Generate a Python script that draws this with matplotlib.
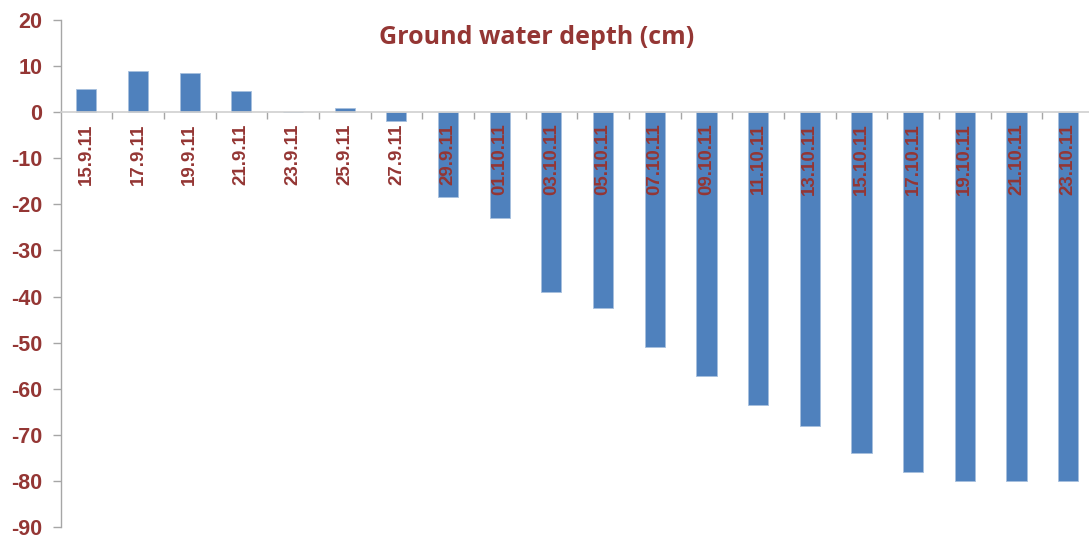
import numpy as np
import matplotlib
matplotlib.use('Agg')
import matplotlib.pyplot as plt
from matplotlib.ticker import FixedLocator, NullFormatter, FixedFormatter

#DATA===================================================================
dates  = ['15.9.11', '17.9.11', '19.9.11', '21.9.11', '23.9.11',
          '25.9.11', '27.9.11', '29.9.11', '01.10.11', '03.10.11',
          '05.10.11', '07.10.11', '09.10.11', '11.10.11', '13.10.11',
          '15.10.11', '17.10.11', '19.10.11', '21.10.11', '23.10.11']
depth  = [5.0, 9.0, 8.4, 4.5, 0.0,
          1.0, -2.0, -18.4, -23.0, -39.0,
          -42.4, -51.0, -57.3, -63.5, -68.0,
          -74.0, -78.0, -80.0, -80.0, -80.0]
yTicks = list(range(-90, 30, 10))

#STYLE==================================================================
barCol  = '#4F81BD'
edgeCol = '#A7C0DE'
txtCol  = '#943634'
axCol   = '#A6A6A6'

#FIGURE=================================================================
fig = plt.figure(figsize=(10.89, 5.35), dpi=100, facecolor='w')
ax = fig.add_axes([60.5/1089, 8/535, 1033.5/1089, 507/535])

xPos = np.arange(len(dates))
ax.bar(xPos, depth, width=0.39, color=barCol, edgecolor=edgeCol,
       linewidth=0.6, zorder=1)

ax.set_xlim(-0.5, len(dates) - 0.5)
ax.set_ylim(-90, 20)

# -- spines: left axis + zero line carrying the category labels
for s in ['top', 'right']:
    ax.spines[s].set_visible(False)
ax.spines['left'].set_color(axCol)
ax.spines['left'].set_linewidth(1.0)
ax.spines['bottom'].set_position(('data', 0))
ax.spines['bottom'].set_color('#CFCFCF')
ax.spines['bottom'].set_linewidth(1.2)

# -- y axis
ax.set_yticks(yTicks)
ax.set_yticklabels([str(v) for v in yTicks])
ax.tick_params(axis='y', direction='out', length=6, width=1.0,
               color=axCol, pad=7, labelsize=15.5, labelcolor=txtCol)
for lbl in ax.get_yticklabels():
    lbl.set_fontweight('bold')
    lbl.set_family('Liberation Sans')

# -- x axis: tick marks between categories, labels at category centres
ax.xaxis.set_major_locator(FixedLocator(xPos[1:] - 0.5))
ax.xaxis.set_major_formatter(NullFormatter())
ax.xaxis.set_minor_locator(FixedLocator(xPos))
ax.xaxis.set_minor_formatter(FixedFormatter(dates))
ax.tick_params(axis='x', which='major', direction='out', length=5,
               width=1.0, color=axCol)
ax.tick_params(axis='x', which='minor', length=0, pad=8,
               labelsize=13.5, labelcolor=txtCol, labelrotation=90)
for lbl in ax.get_xticklabels(minor=True):
    lbl.set_fontweight('bold')
    lbl.set_family('Liberation Sans')
    lbl.set_verticalalignment('top')

# -- title inside the plot area
fig.text(537/1089, 1 - 38/535, 'Ground water depth (cm)', ha='center',
         va='center', color=txtCol, fontsize=18, fontweight='bold',
         family='Open Sans')

plt.savefig('out.png', dpi=100, facecolor='w')
